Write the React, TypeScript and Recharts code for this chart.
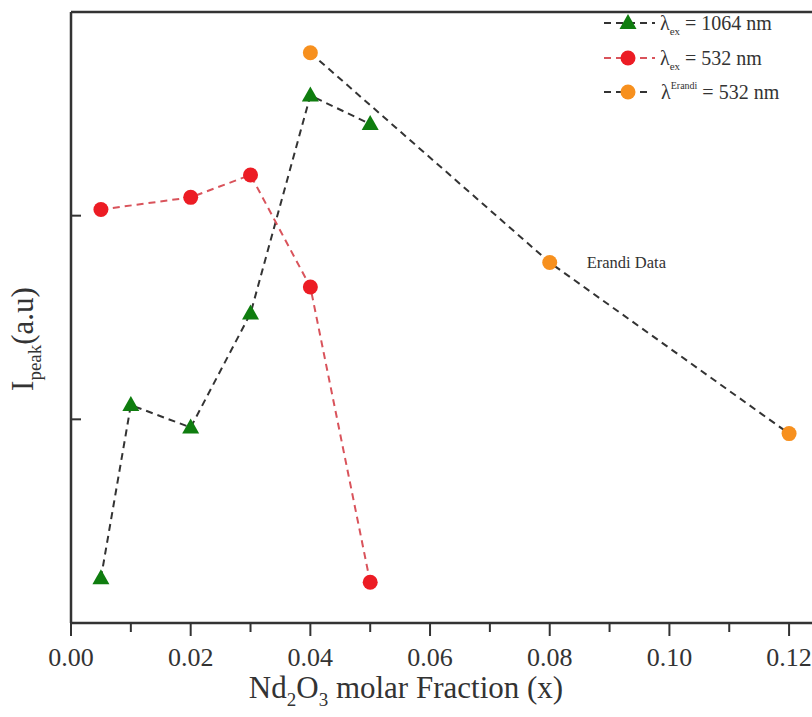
import React from 'react'
import { LineChart, Line, XAxis, YAxis, ReferenceLine } from 'recharts'

// values (y in arbitrary units, ticks at 1 and 2)
const xTicks = [0, 0.01, 0.02, 0.03, 0.04, 0.05, 0.06, 0.07, 0.08, 0.09, 0.1, 0.11, 0.12]
const yTicks = [1, 2]

const ex1064X = [0.005, 0.01, 0.02, 0.03, 0.04, 0.05]
const ex1064Y = [0.22, 1.07, 0.96, 1.52, 2.59, 2.45]

const ex532X = [0.005, 0.02, 0.03, 0.04, 0.05]
const ex532Y = [2.03, 2.09, 2.2, 1.65, 0.2]

const erandiX = [0.04, 0.08, 0.12]
const erandiY = [2.8, 1.77, 0.93]

const ex1064 = ex1064X.map((x, i) => ({ x, y: ex1064Y[i] }))
const ex532 = ex532X.map((x, i) => ({ x, y: ex532Y[i] }))
const erandi = erandiX.map((x, i) => ({ x, y: erandiY[i] }))

const FONT = "'Liberation Serif', 'DejaVu Serif', serif"
const AXIS = '#333'
const GREEN = '#0f7d0f'
const RED = '#ec1c24'
const ORANGE = '#f7901e'
const RED_LINE = '#d9535b'

const XTick = (props: any) => {
  const { x, y, payload } = props
  const major = Math.round(payload.value * 100) % 2 === 0
  return (
    <g>
      <line x1={x} x2={x} y1={y} y2={y + (major ? 13 : 9)} stroke={AXIS} strokeWidth={2} />
      {major && (
        <text x={x} y={y + 43} textAnchor="middle" fontSize={26} fontFamily={FONT} fill="#333">
          {payload.value.toFixed(2)}
        </text>
      )}
    </g>
  )
}

const YTick = (props: any) => {
  const { x, y } = props
  return <line x1={x} x2={x + 10} y1={y} y2={y} stroke={AXIS} strokeWidth={2} />
}

const triangle = (props: any) => {
  const { cx, cy, index } = props
  return (
    <polygon
      key={'t' + index}
      points={`${cx},${cy - 9} ${cx - 8.5},${cy + 6} ${cx + 8.5},${cy + 6}`}
      fill={GREEN}
    />
  )
}

const erandiDot = (props: any) => {
  const { cx, cy, index } = props
  return (
    <g key={'e' + index}>
      <circle cx={cx} cy={cy} r={7.5} fill={ORANGE} />
      {index === 1 && (
        <text x={cx + 37} y={cy + 5} fontSize={16.5} fontFamily={FONT} fill="#333">
          Erandi Data
        </text>
      )}
    </g>
  )
}

function LegendBox() {
  const rows = [23, 58, 92]
  return (
    <svg width={812} height={717} style={{ position: 'absolute', left: 0, top: 0, pointerEvents: 'none' }}>
      <line x1={604} x2={655} y1={rows[0]} y2={rows[0]} stroke={AXIS} strokeWidth={2} strokeDasharray="7 5" />
      <polygon points={`628,${rows[0] - 9} 619.5,${rows[0] + 6} 636.5,${rows[0] + 6}`} fill={GREEN} />
      <text x={660} y={rows[0] + 7} fontSize={20} fontFamily={FONT} fill="#333">
        λ<tspan fontSize={11} dy={5}>ex</tspan>
        <tspan dy={-5}> = 1064 nm</tspan>
      </text>

      <line x1={604} x2={655} y1={rows[1]} y2={rows[1]} stroke={RED_LINE} strokeWidth={2} strokeDasharray="7 5" />
      <circle cx={628} cy={rows[1]} r={7.5} fill={RED} />
      <text x={660} y={rows[1] + 7} fontSize={20} fontFamily={FONT} fill="#333">
        λ<tspan fontSize={11} dy={5}>ex</tspan>
        <tspan dy={-5}> = 532 nm</tspan>
      </text>

      <line x1={604} x2={650} y1={rows[2]} y2={rows[2]} stroke={AXIS} strokeWidth={2} strokeDasharray="7 5" />
      <circle cx={628} cy={rows[2]} r={7.5} fill={ORANGE} />
      <text x={661} y={rows[2] + 7} fontSize={20} fontFamily={FONT} fill="#333">
        λ<tspan fontSize={10} dy={-10}>Erandi</tspan>
        <tspan dy={10}> =  532 nm</tspan>
      </text>
    </svg>
  )
}

export default function App() {
  return (
    <div
      style={{
        position: 'absolute',
        left: 0,
        top: 0,
        width: 812,
        height: 717,
        overflow: 'hidden',
        background: '#fff',
      }}
    >
      <LineChart width={839} height={717} margin={{ top: 12, right: 20, bottom: 0, left: 0 }}>
        <XAxis
          dataKey="x"
          type="number"
          domain={[0, 0.125]}
          ticks={xTicks}
          interval={0}
          allowDataOverflow
          tickLine={false}
          tickSize={0}
          tickMargin={0}
          height={94}
          axisLine={{ stroke: AXIS, strokeWidth: 2.5 }}
          tick={XTick}
        />
        <YAxis
          type="number"
          domain={[0, 3]}
          ticks={yTicks}
          interval={0}
          width={71}
          tickLine={false}
          tickSize={0}
          tickMargin={0}
          axisLine={{ stroke: AXIS, strokeWidth: 2.5 }}
          tick={YTick}
        />
        <ReferenceLine y={3} stroke={AXIS} strokeWidth={2.5} />

        <Line
          data={ex1064}
          dataKey="y"
          type="linear"
          stroke={AXIS}
          strokeWidth={2}
          strokeDasharray="7 5"
          dot={triangle}
          activeDot={false}
          isAnimationActive={false}
        />
        <Line
          data={ex532}
          dataKey="y"
          type="linear"
          stroke={RED_LINE}
          strokeWidth={2}
          strokeDasharray="7 5"
          dot={{ r: 7.5, fill: RED, stroke: RED, strokeWidth: 0 }}
          activeDot={false}
          isAnimationActive={false}
        />
        <Line
          data={erandi}
          dataKey="y"
          type="linear"
          stroke={AXIS}
          strokeWidth={2}
          strokeDasharray="7 5"
          dot={erandiDot}
          activeDot={false}
          isAnimationActive={false}
        />
      </LineChart>

      <svg width={812} height={717} style={{ position: 'absolute', left: 0, top: 0, pointerEvents: 'none' }}>
        <text
          x={33}
          y={339}
          transform="rotate(-90 33 339)"
          textAnchor="middle"
          fontSize={31}
          fontFamily={FONT}
          fill="#333"
        >
          I<tspan fontSize={19} dy={8}>peak</tspan>
          <tspan dy={-8}>(a.u)</tspan>
        </text>
        <text x={406} y={698} textAnchor="middle" fontSize={31} fontFamily={FONT} fill="#333">
          Nd<tspan fontSize={19} dy={8}>2</tspan>
          <tspan dy={-8}>O</tspan>
          <tspan fontSize={19} dy={8}>3</tspan>
          <tspan dy={-8}> molar Fraction (x)</tspan>
        </text>
      </svg>
      <LegendBox />
    </div>
  )
}
